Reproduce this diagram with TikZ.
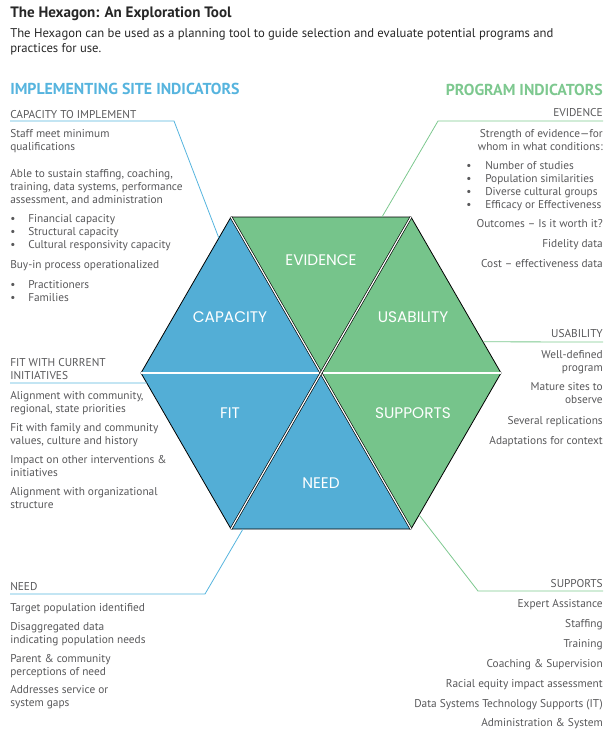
\documentclass[tikz,border=0pt]{standalone}
\usepackage{fontspec}
\setmainfont{PT Sans}
\newfontfamily\hexfont{Poppins}
\usetikzlibrary{calc}
\definecolor{hexblue}{RGB}{83,174,214}
\definecolor{hexgreen}{RGB}{118,196,139}
\definecolor{headblue}{RGB}{86,180,222}
\definecolor{headgreen}{RGB}{125,200,143}
\definecolor{txtgray}{RGB}{88,88,90}
\newcommand{\bul}{\makebox[13.5pt][l]{\textbullet}}
\newcommand{\evbul}{\makebox[14.25pt][l]{\textbullet}}

\begin{document}
\begin{tikzpicture}[x=0.75pt,y=-0.75pt,
    body/.style={text=txtgray, font=\fontsize{8.5}{9.75}\selectfont, inner sep=0pt},
    bodyl/.style={body, align=left, anchor=base west},
    bodyr/.style={body, align=right, anchor=base east},
    tri/.style={draw=black, line width=0.6pt, line join=round},
    gap/.style={draw=black, double=white, double distance=0.9pt, line width=0.5pt},
    hexlabel/.style={text=white, font=\hexfont\fontsize{11.5}{13}\selectfont},
    blueline/.style={draw=headblue, line width=0.6pt},
    greenline/.style={draw=headgreen, line width=0.6pt}]
   \useasboundingbox (0,0) rectangle (616,742);

   % title
   \node[anchor=base west, inner sep=0pt, text=black!85, font=\bfseries\fontsize{11.3}{13}\selectfont] (title) at (10,18) {The Hexagon: An Exploration Tool};
   \node[anchor=base west, inner sep=0pt, align=left, text=black!85, font=\fontsize{9.5}{11.25}\selectfont] (intro) at (10,53) {The Hexagon can be used as a planning tool to guide selection and evaluate potential programs and\\practices for use.};
   \node[anchor=base west, inner sep=0pt, text=headblue, font=\bfseries\fontsize{11.9}{13}\selectfont] (site) at (10,94) {IMPLEMENTING SITE INDICATORS};
   \node[anchor=base east, inner sep=0pt, text=headgreen, font=\bfseries\fontsize{11.9}{13}\selectfont] (prog) at (603,95) {PROGRAM INDICATORS};

   % hexagon
   \coordinate (O) at (321,373);
   \coordinate (L) at (141,373);
   \coordinate (R) at (501,373);
   \coordinate (TL) at (231,217);
   \coordinate (TR) at (411,217);
   \coordinate (BL) at (231,529);
   \coordinate (BR) at (411,529);
   \fill[hexblue] (O) -- (L) -- (TL) -- cycle;
   \fill[hexgreen] (O) -- (TL) -- (TR) -- cycle;
   \fill[hexgreen] (O) -- (TR) -- (R) -- cycle;
   \fill[hexgreen] (O) -- (R) -- (BR) -- cycle;
   \fill[hexblue] (O) -- (BR) -- (BL) -- cycle;
   \fill[hexblue] (O) -- (BL) -- (L) -- cycle;
   \draw[tri] (L) -- (TL) -- (TR) -- (R) -- (BR) -- (BL) -- cycle;
   \draw[gap] (L) -- (R);
   \draw[gap] (TL) -- (BR);
   \draw[gap] (TR) -- (BL);
   \node[hexlabel] (evidence) at (321,260) {EVIDENCE};
   \node[hexlabel] (capacity) at (230,317) {CAPACITY};
   \node[hexlabel] (usability) at (413,317) {USABILITY};
   \node[hexlabel] (fit) at (230,413) {FIT};
   \node[hexlabel] (supports) at (413,413) {SUPPORTS};
   \node[hexlabel] (need) at (321,483) {NEED};

   % capacity to implement
   \node[bodyl] (capt) at (10,118) {CAPACITY TO IMPLEMENT};
   \node[bodyl] (cap1) at (10,150) {Staff meet minimum\\qualifications};
   \node[bodyl] (cap2) at (10,203) {Able to sustain staffing, coaching,\\training, data systems, performance\\assessment, and administration};
   \node[bodyl] (cap3) at (10,248) {\bul Financial capacity\\\bul Structural capacity\\\bul Cultural responsivity capacity};
   \node[bodyl] (cap4) at (10,268) {Buy-in process operationalized};
   \node[bodyl] (cap5) at (10,301) {\bul Practitioners\\\bul Families};
   \coordinate (capa) at (10,121);
   \coordinate (capb) at (174,121);
   \coordinate (capc) at ($(L)!0.865!(TL)$);
   \draw[blueline] (capa) -- (capb) -- (capc);

   % fit
   \node[bodyl] (fitt) at (10,379) {FIT WITH CURRENT\\INITIATIVES};
   \node[bodyl] (fit1) at (10,412) {Alignment with community,\\regional, state priorities};
   \node[bodyl] (fit2) at (10,444) {Fit with family and community\\values, culture and history};
   \node[bodyl] (fit3) at (10,476) {Impact on other interventions \&\\initiatives};
   \node[bodyl] (fit4) at (10,508) {Alignment with organizational\\structure};
   \coordinate (fita) at (10,383);
   \coordinate (fitc) at ($(L)!0.064!(BL)$);
   \draw[blueline] (fita) -- (fitc);

   % need
   \node[bodyl] (needt) at (10,590) {NEED};
   \node[bodyl] (need1) at (10,611) {Target population identified};
   \node[bodyl] (need2) at (10,643) {Disaggregated data\\indicating population needs};
   \node[bodyl] (need3) at (10,675) {Parent \& community\\perceptions of need};
   \node[bodyl] (need4) at (10,706) {Addresses service or\\system gaps};
   \coordinate (needa) at (10,594);
   \coordinate (needb) at (205,594);
   \coordinate (needc) at (243,529);
   \draw[blueline] (needa) -- (needb) -- (needc);

   % evidence
   \node[bodyr] (evt) at (603,117) {EVIDENCE};
   \node[bodyr] (ev1) at (603,150) {Strength of evidence---for\\whom in what conditions:};
   \node[bodyl] (ev2) at (466,208) {\evbul Number of studies\\\evbul Population similarities\\\evbul Diverse cultural groups\\\evbul Efficacy or Effectiveness};
   \node[bodyr] (ev3) at (603,227) {Outcomes -- Is it worth it?};
   \node[bodyr] (ev4) at (603,247) {Fidelity data};
   \node[bodyr] (ev5) at (603,267) {Cost -- effectiveness data};
   \coordinate (eva) at (603,121);
   \coordinate (evb) at (438,121);
   \coordinate (evc) at (382,217);
   \draw[greenline] (eva) -- (evb) -- (evc);

   % usability
   \node[bodyr] (ust) at (603,337) {USABILITY};
   \node[bodyr] (us1) at (603,371) {Well-defined\\program};
   \node[bodyr] (us2) at (603,403) {Mature sites to\\observe};
   \node[bodyr] (us3) at (603,424) {Several replications};
   \node[bodyr] (us4) at (603,444) {Adaptations for context};
   \coordinate (usa) at (603,342);
   \coordinate (usc) at ($(TR)!0.8!(R)$);
   \draw[greenline] (usa) -- (usc);

   % supports
   \node[bodyr] (supt) at (603,587) {SUPPORTS};
   \node[bodyr] (sup1) at (603,607) {Expert Assistance};
   \node[bodyr] (sup2) at (603,627) {Staffing};
   \node[bodyr] (sup3) at (603,647) {Training};
   \node[bodyr] (sup4) at (603,667) {Coaching \& Supervision};
   \node[bodyr] (sup5) at (603,687) {Racial equity impact assessment};
   \node[bodyr] (sup6) at (603,707) {Data Systems Technology Supports (IT)};
   \node[bodyr] (sup7) at (603,726) {Administration \& System};
   \coordinate (supa) at (603,591);
   \coordinate (supb) at (478,591);
   \coordinate (supc) at ($(R)!0.91!(BR)$);
   \draw[greenline] (supa) -- (supb) -- (supc);
\end{tikzpicture}
\end{document}
